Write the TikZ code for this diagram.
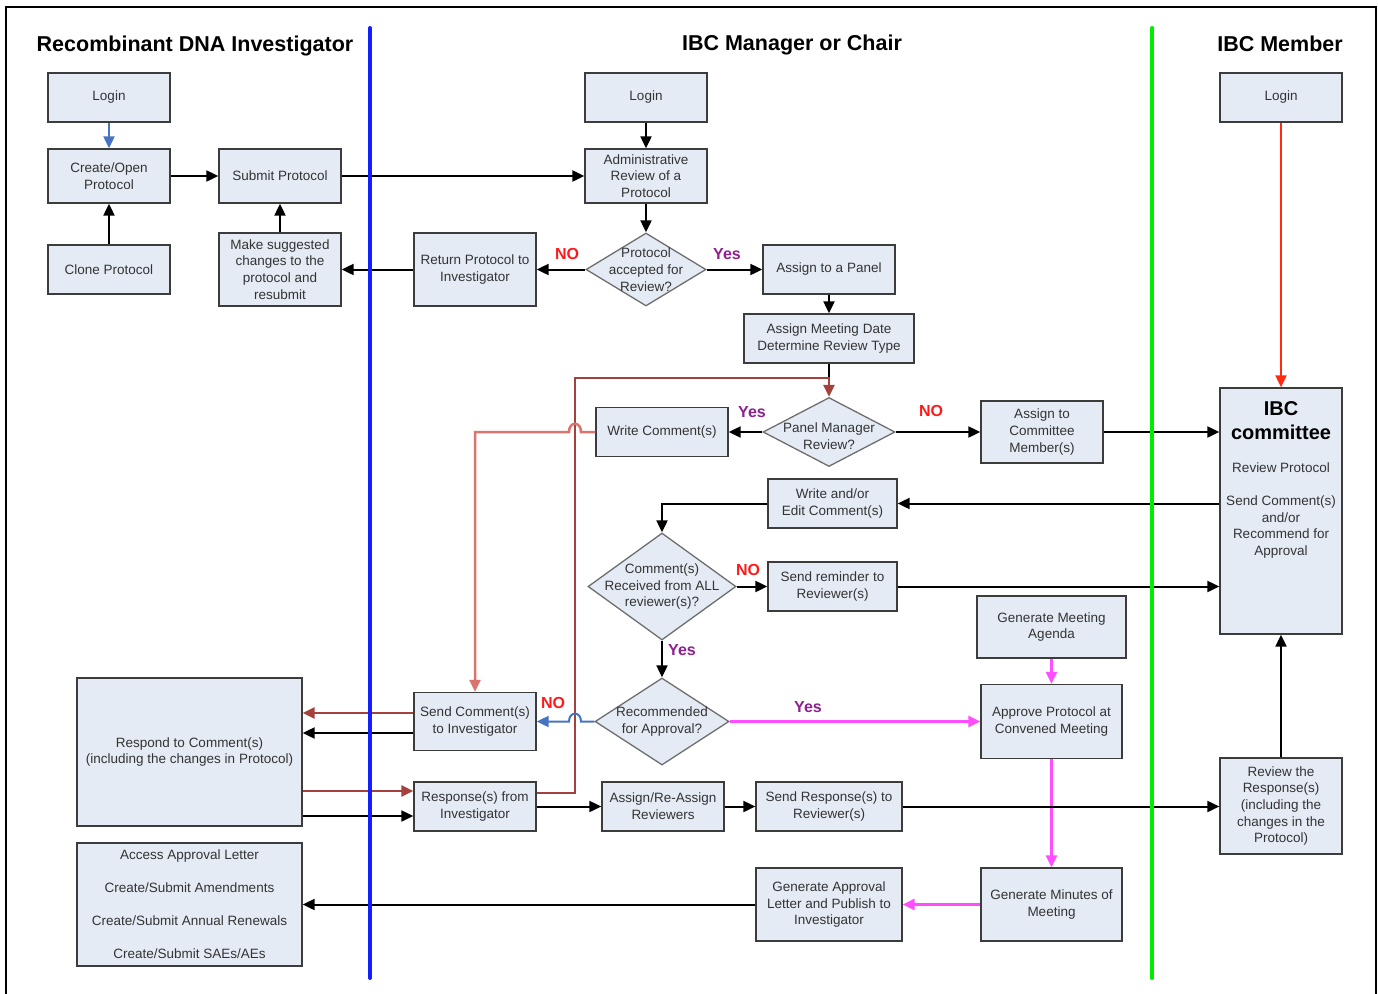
\documentclass[tikz,border=0pt]{standalone}
\usepackage{fontspec}
\setmainfont{Liberation Sans}
\usetikzlibrary{arrows.meta,shapes.geometric}
\definecolor{boxfill}{HTML}{E5EBF5}
\definecolor{boxline}{HTML}{3C3C3C}
\definecolor{diagray}{HTML}{6E6E6E}
\definecolor{txtc}{HTML}{333333}
\definecolor{dred}{HTML}{A3413C}
\definecolor{salmon}{HTML}{D9756E}
\definecolor{lblue}{HTML}{4674C1}
\definecolor{magen}{HTML}{FF4DFF}
\definecolor{topred}{HTML}{FF2A10}
\definecolor{laneblue}{HTML}{1020FF}
\definecolor{lanegreen}{HTML}{00EE00}
\definecolor{nored}{HTML}{FF1A1A}
\definecolor{yespurp}{HTML}{8E2090}
\begin{document}
\begin{tikzpicture}[x=1pt,y=-1pt,
 box/.style={draw=boxline,line width=1.3pt,fill=boxfill,text=txtc,align=center,inner sep=0pt,font=\fontsize{13.5}{16.7}\selectfont},
 sz/.style 2 args={minimum width=#1pt,minimum height=#2pt},
 dia/.style={diamond,draw=diagray,line width=1.3pt,fill=boxfill,inner sep=0pt},
 txt/.style={text=txtc,align=center,inner sep=0pt,font=\fontsize{13.5}{16.7}\selectfont},
 conn/.style={line width=2pt,draw=black},
 arr/.style={-{Triangle[length=12pt,width=11pt]}},
 title/.style={anchor=base,inner sep=0pt,font=\fontsize{21.5}{26}\selectfont\bfseries},
 nolab/.style={text=nored,inner sep=0pt,font=\fontsize{16}{19}\selectfont\bfseries},
 yeslab/.style={text=yespurp,inner sep=0pt,font=\fontsize{16}{19}\selectfont\bfseries}
]
\useasboundingbox (0,0) rectangle (1378,993);
\fill[white] (0,0) rectangle (1378,993);

% titles
\node[title] (t1) at (195,51) {Recombinant DNA Investigator};
\node[title] (t2) at (792,50) {IBC Manager or Chair};
\node[title] (t3) at (1280,51) {IBC Member};

% boxes
\node[box,sz={122}{49}] (login1) at (109,97.5) {Login};
\node[box,sz={122}{54}] (create) at (109,176) {Create/Open\\Protocol};
\node[box,sz={122}{49}] (clone) at (109,269.5) {Clone Protocol};
\node[box,sz={122}{54}] (submit) at (280,176) {Submit Protocol};
\node[box,sz={122}{73}] (make) at (280,269.5) {Make suggested\\changes to the\\protocol and\\resubmit};
\node[box,sz={122}{73}] (ret) at (475,269.5) {Return Protocol to\\Investigator};
\node[box,sz={122}{49}] (login2) at (646,97.5) {Login};
\node[box,sz={122}{54}] (admin) at (646,176) {Administrative\\Review of a\\Protocol};
\node[dia,minimum width=120pt,minimum height=73pt] (d1) at (646,269.5) {};
\node[txt] (d1t) at (646,269.5) {Protocol\\accepted for\\Review?};
\node[box,sz={132}{49}] (panel) at (829,269.5) {Assign to a Panel};
\node[box,sz={170}{49}] (meet) at (829,338.5) {Assign Meeting Date\\Determine Review Type};
\node[dia,minimum width=132pt,minimum height=69pt] (d2) at (829,432) {};
\node[txt] (d2t) at (829,436) {Panel Manager\\Review?};
\node[box,sz={132}{49}] (wc) at (662,432) {Write Comment(s)};
\node[box,sz={122}{62}] (ac) at (1042,432) {Assign to\\Committee\\Member(s)};
\node[box,sz={122}{49}] (login3) at (1281,97.5) {Login};
\node[box,sz={122}{246}] (ibc) at (1281,511) {};
\node[txt,font=\fontsize{20}{24}\selectfont\bfseries,text=black] (ibct) at (1281,421) {IBC\\committee};
\node[txt] (ibcr) at (1281,468) {Review Protocol};
\node[txt] (ibcs) at (1281,527) {Send Comment(s)\\and/or\\Recommend for\\Approval};
\node[box,sz={129}{49}] (we) at (832.5,503.5) {Write and/or\\Edit Comment(s)};
\node[dia,minimum width=148pt,minimum height=107pt] (d3) at (662,586.5) {};
\node[txt] (d3t) at (662,586.5) {Comment(s)\\Received from ALL\\reviewer(s)?};
\node[box,sz={129}{49}] (rem) at (832.5,586.5) {Send reminder to\\Reviewer(s)};
\node[box,sz={149}{62}] (agenda) at (1051.5,627) {Generate Meeting\\Agenda};
\node[dia,minimum width=134pt,minimum height=87pt] (d4) at (662,721.5) {};
\node[txt] (d4t) at (662,721.5) {Recommended\\for Approval?};
\node[box,sz={141}{74}] (app) at (1051.5,721.5) {Approve Protocol at\\Convened Meeting};
\node[box,sz={122}{58}] (sc) at (475,721.5) {Send Comment(s)\\to Investigator};
\node[box,sz={225}{148}] (rc) at (189.5,752) {Respond to Comment(s)\\(including the changes in Protocol)};
\node[box,sz={122}{49}] (resp) at (475,806.5) {Response(s) from\\Investigator};
\node[box,sz={122}{49}] (ra) at (663,806.5) {Assign/Re-Assign\\Reviewers};
\node[box,sz={146}{49}] (sr) at (829,806.5) {Send Response(s) to\\Reviewer(s)};
\node[box,sz={122}{96}] (rr) at (1281,806) {Review the\\Response(s)\\(including the\\changes in the\\Protocol)};
\node[box,sz={225}{123},font=\fontsize{13.5}{33}\selectfont] (acc) at (189.5,904.5) {Access Approval Letter\\Create/Submit Amendments\\Create/Submit Annual Renewals\\Create/Submit SAEs/AEs};
\node[box,sz={146}{73}] (gal) at (829,904.5) {Generate Approval\\Letter and Publish to\\Investigator};
\node[box,sz={141}{73}] (mins) at (1051.5,904.5) {Generate Minutes of\\Meeting};

% helper coordinates
\coordinate (rtop) at (829,378);
\coordinate (rcorner) at (575,378);
\coordinate (y713) at (0,713);
\coordinate (y733) at (0,733);
\coordinate (y791) at (0,791);
\coordinate (y816) at (0,816);

% connectors
\draw[conn,arr,draw=lblue] (login1) -- (create);
\draw[conn,arr] (clone) -- (create);
\draw[conn,arr] (create) -- (submit);
\draw[conn,arr] (make) -- (submit);
\draw[conn,arr] (submit) -- (admin);
\draw[conn,arr] (login2) -- (admin);
\draw[conn,arr] (admin) -- (d1);
\draw[conn,arr] (d1) -- (ret);
\draw[conn,arr] (ret) -- (make);
\draw[conn,arr] (d1) -- (panel);
\draw[conn,arr] (panel) -- (meet);
\draw[conn] (meet) -- (rtop);
\draw[line width=2.5pt,draw=dred,arr] ([yshift=13.5pt]resp.east) -| (rcorner) -- (rtop) -- (d2.north);
\draw[conn,arr] (d2) -- (wc);
\draw[line width=2.5pt,draw=salmon,arr] (wc.west) -- (581,432) .. controls (581,421) and (569,421) .. (569,432) -- (475,432) -- (sc.north);
\draw[conn,arr] (d2) -- (ac);
\draw[conn,arr] (ac.east) -- (ac.east -| ibc.west);
\draw[line width=2pt,draw=topred,arr] (login3) -- (ibc);
\draw[conn,arr] (we.east -| ibc.west) -- (we.east);
\draw[conn,arr] (we.west) -| (d3.north);
\draw[conn,arr] (d3) -- (rem);
\draw[conn,arr] (rem.east) -- (rem.east -| ibc.west);
\draw[conn,arr] (d3) -- (d4);
\draw[line width=2pt,draw=lblue,arr] (d4.west) -- (581,721.5) .. controls (581,711) and (569,711) .. (569,721.5) -- (sc.east);
\draw[line width=2.3pt,draw=magen,arr] (d4) -- (app);
\draw[line width=2.3pt,draw=magen,arr] (agenda) -- (app);
\draw[line width=2.3pt,draw=magen,arr] (app) -- (mins);
\draw[line width=2.3pt,draw=magen,arr] (mins) -- (gal);
\draw[conn,arr] (gal.west) -- (gal.west -| acc.east);
\draw[line width=2.5pt,draw=dred,arr] (sc.west |- y713) -- (rc.east |- y713);
\draw[conn,arr] (sc.west |- y733) -- (rc.east |- y733);
\draw[line width=2.5pt,draw=dred,arr] (rc.east |- y791) -- (resp.west |- y791);
\draw[conn,arr] (rc.east |- y816) -- (resp.west |- y816);
\draw[conn,arr] (resp) -- (ra);
\draw[conn,arr] (ra) -- (sr);
\draw[conn,arr] (sr.east) -- (sr.east -| rr.west);
\draw[conn,arr] (rr) -- (ibc);

% labels
\node[nolab] (n1) at (567,254) {NO};
\node[yeslab] (y1) at (727,254) {Yes};
\node[yeslab] (y2) at (752,412) {Yes};
\node[nolab] (n2) at (931,411) {NO};
\node[nolab] (n3) at (748,570) {NO};
\node[yeslab] (y3) at (682,650) {Yes};
\node[nolab] (n4) at (553,703) {NO};
\node[yeslab] (y4) at (808,707) {Yes};

% swimlane lines
\draw[line width=4pt,draw=laneblue,line cap=round] (370,28) -- (370,978);
\draw[line width=4pt,draw=lanegreen,line cap=round] (1152,28) -- (1152,978);

% frame
\draw[line width=2pt] (6,995) -- (6,7) -- (1376,7) -- (1376,995);
\end{tikzpicture}
\end{document}
